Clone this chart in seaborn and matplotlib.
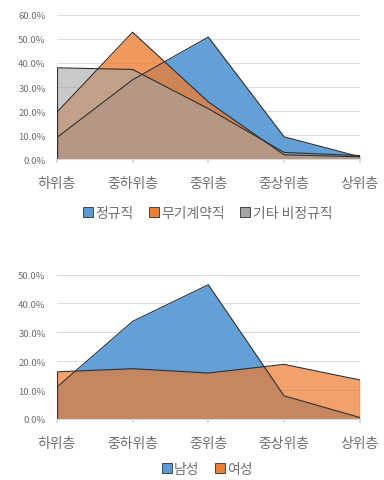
import matplotlib
matplotlib.use("Agg")
import matplotlib.pyplot as plt
import seaborn as sns
import pandas as pd
import numpy as np
from matplotlib.patches import Patch
from matplotlib.ticker import FuncFormatter, MultipleLocator

categories = ["하위층", "중하위층", "중위층", "중상위층", "상위층"]

# Top chart (%)
regular = [9.0, 33.0, 50.8, 9.3, 1.0]
indefinite = [19.5, 52.8, 23.8, 1.8, 1.0]
other_nonreg = [38.0, 37.3, 21.0, 2.8, 1.5]
top_series = ["정규직", "무기계약직", "기타 비정규직"]

# Bottom chart (%)
male = [11.0, 33.8, 46.5, 8.0, 0.5]
female = [16.3, 17.4, 15.9, 18.9, 13.5]
bottom_series = ["남성", "여성"]

sns.set_theme(style="white")
plt.rcParams["font.family"] = ["Noto Sans CJK KR", "DejaVu Sans"]

BLUE = "#5B9BD5"
ORANGE = "#ED7D31"
GRAY = "#A5A5A5"
EDGE = "#303030"
TXT = "#6f6f6f"

fig = plt.figure(figsize=(3.84, 4.81), dpi=100)
ax1 = fig.add_axes([0.148, 0.667, 0.789, 0.300])
ax2 = fig.add_axes([0.148, 0.127, 0.789, 0.300])

x = np.arange(len(categories))


def draw(ax, series_vals, names, colors, alphas, ymax):
    for vals, name, col, a in zip(series_vals, names, colors, alphas):
        df = pd.DataFrame({"x": x, "y": vals})
        ax.fill_between(df["x"], 0, df["y"], color=col, alpha=a, linewidth=0)
        sns.lineplot(data=df, x="x", y="y", ax=ax, color=EDGE, linewidth=0.8, legend=False)
        ax.plot([x[0], x[0]], [0, vals[0]], color=EDGE, linewidth=0.8)
        ax.plot([x[-1], x[-1]], [0, vals[-1]], color=EDGE, linewidth=0.8)
    ax.set_xlim(0, len(categories) - 1)
    ax.set_ylim(0, ymax)
    ax.yaxis.set_major_locator(MultipleLocator(10))
    ax.yaxis.set_major_formatter(FuncFormatter(lambda v, p: f"{v:.1f}%"))
    ax.set_xticks(x)
    ax.set_xticklabels(categories)
    ax.grid(axis="y", color="#dcdcdc", linewidth=0.7)
    ax.set_axisbelow(True)
    for s in ["top", "right", "left"]:
        ax.spines[s].set_visible(False)
    ax.spines["bottom"].set_color("#d9d9d9")
    ax.spines["bottom"].set_linewidth(0.8)
    ax.tick_params(axis="y", labelsize=6.8, labelcolor=TXT, length=0, pad=8)
    ax.tick_params(axis="x", labelsize=10, labelcolor=TXT, length=3, color="#d9d9d9",
                   direction="out", pad=9, bottom=True)
    ax.set_xlabel("")
    ax.set_ylabel("")


draw(ax1, [regular, indefinite, other_nonreg], top_series,
     [BLUE, ORANGE, GRAY], [0.95, 0.78, 0.6], 60)
draw(ax2, [male, female], bottom_series, [BLUE, ORANGE], [0.95, 0.72], 50)


def add_legend(names, colors, y):
    handles = [Patch(facecolor=c, edgecolor=EDGE, linewidth=0.6) for c in colors]
    fig.legend(handles, names, loc="center", bbox_to_anchor=(0.54, y),
               ncol=len(names), frameon=False, fontsize=10,
               handlelength=0.75, handleheight=0.75, handletextpad=0.15,
               columnspacing=1.1, labelcolor=TXT, borderpad=0.1)


add_legend(top_series, [BLUE, ORANGE, GRAY], 1 - 214 / 481)
add_legend(bottom_series, [BLUE, ORANGE], 1 - 470 / 481)

fig.savefig("out.png", dpi=100)
